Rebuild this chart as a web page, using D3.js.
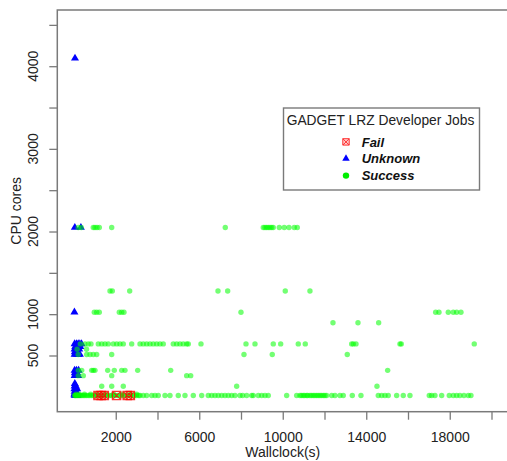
<!DOCTYPE html>
<html>
<head>
<meta charset="utf-8">
<script src="https://cdn.jsdelivr.net/npm/d3@7/dist/d3.min.js"></script>
<style>
  html, body { margin: 0; padding: 0; background: #fff; }
  svg { display: block; font-family: "Liberation Sans", Arial, Helvetica, sans-serif; }
</style>
</head>
<body>
<svg id="chart" width="507" height="461"></svg>
<script>
// ---------------- data (wallclock seconds per CPU-core level) ----------------
const legendTitle = "GADGET LRZ Developer Jobs";
const seriesNames = ["Fail", "Unknown", "Success"];

const xTicks = [2000, 4000, 6000, 8000, 10000, 12000, 14000, 16000, 18000, 20000];
const xTickLabels = [2000, 6000, 10000, 14000, 18000];
const yTicks = [500, 1000, 1500, 2000, 2500, 3000, 3500, 4000, 4500];
const yTickLabels = [500, 1000, 2000, 3000, 4000];

// Fail jobs
const failWall  = [1150, 1300, 1450, 2040, 2550, 2700];
const failCores = [16, 16, 16, 16, 16, 16];

// Unknown jobs
const unknownWall  = [48, 40, 330, 20,
  30, 120, 200, 280, 360, 60, 180, 300, 30, 100, 250, 40, 160, 30, 110, 200, 280,
  30, 120, 220, 40, 150, 30, 100, 200,
  40, 30, 90, 20, 80, 150, 30, 100, 20, 60, 140, 30, 90, 160, 50, 120];
const unknownCores = [4096, 2048, 2048, 1024,
  640, 640, 640, 640, 640, 608, 608, 608, 576, 576, 576, 544, 544, 512, 512, 512, 512,
  320, 320, 320, 288, 288, 256, 256, 256,
  160, 128, 128, 96, 96, 96, 64, 64, 32, 32, 32, 16, 16, 16, 48, 48];

// Success jobs, grouped by core count
const success2048 = [200, 350, 924, 1006, 1102, 1212, 1806, 7247, 9068, 9149, 9230, 9307,
  9388, 9470, 9546, 9834, 10073, 10299, 10552, 10696];
const success1280 = [1724, 1835, 2668, 6898, 7362, 10121, 11304];
const success1024 = [972, 1087, 1212, 2170, 2285, 2395, 8000, 17325, 17484, 17929, 18169, 18331, 18537];
const success896  = [12406, 13604, 14595];
const success640  = [300, 527, 685, 814, 1164, 1327, 1485, 1643, 1882, 2045, 2203, 2361, 2764,
  3161, 3319, 3482, 3640, 3798, 3961, 4119, 4277, 4756, 4919, 5077, 5235, 5398, 5475, 6083,
  8239, 8670, 9546, 9901, 10744, 11079, 13302, 13379, 13508, 15615, 15678, 19174];
const success576  = [150, 600];
const success512  = [200, 608, 766, 924, 1087, 1806, 8143, 9498, 13091];
const success320  = [206, 369, 846, 924, 1006, 1614, 1930, 2285, 2443, 3051, 4632, 15026];
const success256  = [206, 445, 1806, 5398, 5590];
const success128  = [1327, 1806, 2361, 7793, 14514];
const success32   = [100, 250, 500, 800, 1100, 1500, 1900, 2300, 2700, 3000];
const success16   = [30, 60, 100, 150, 200, 260, 320, 380, 450, 520, 600, 680, 760, 850, 940,
  1030, 1120, 1210, 1300, 1400, 1500, 1600, 1700, 1800, 1900, 2000, 2100, 2200, 2300, 2400,
  2500, 2600, 2700, 2800, 2900, 3000, 3100, 3161, 3319, 3482, 3722, 3880, 4038, 4359, 4598,
  4996, 5317, 5715, 6117, 6433, 6596, 6754, 6912, 7075, 7233, 7391, 7554, 7712, 7951, 8081,
  8272, 8512, 8588, 8828, 8991, 9149, 9307, 10188, 10667, 10825, 10900, 10983, 11050, 11146,
  11200, 11304, 11380, 11462, 11540, 11625, 11700, 11783, 11860, 11942, 12020, 12105, 12344,
  12502, 12741, 12899, 13331, 13747, 14576, 14739, 14897, 15055, 15457, 15773, 16094, 17019,
  17134, 17292, 17613, 17977, 18169, 18331, 18489, 18681, 18887, 19016];

const successGroups = [
  [2048, success2048], [1280, success1280], [1024, success1024], [896, success896],
  [640, success640], [576, success576], [512, success512], [320, success320],
  [256, success256], [128, success128], [32, success32], [16, success16]
];

// ---------------- build point tables ----------------
const failPts = failWall.map((w, i) => ({ wall: w, cores: failCores[i] }));
const unknownPts = unknownWall.map((w, i) => ({ wall: w, cores: unknownCores[i] }));
const successPts = [];
successGroups.forEach(([c, arr]) => arr.forEach(w => successPts.push({ wall: w, cores: c })));

// ---------------- chart ----------------
const svg = d3.select("#chart");
const box = { left: 57.3, top: 10, right: 508.2, bottom: 411.7 };

const x = d3.scaleLinear().domain([-800, 20800]).range([box.left, box.right]);
const y = d3.scaleLinear().domain([-180, 4680]).range([box.bottom, box.top]);

const axisColor = "#7a7a7a";
const textColor = "#222";

// points
const gPts = svg.append("g");

gPts.selectAll("path.unknown").data(unknownPts).enter().append("path")
  .attr("class", "unknown")
  .attr("d", d3.symbol(d3.symbolTriangle, 28)())
  .attr("transform", d => `translate(${x(d.wall)},${y(d.cores)})`)
  .attr("fill", "#0000ff");

gPts.selectAll("circle.success").data(successPts).enter().append("circle")
  .attr("class", "success")
  .attr("cx", d => x(d.wall))
  .attr("cy", d => y(d.cores))
  .attr("r", 2.7)
  .attr("fill", "#00ff00")
  .attr("fill-opacity", 0.55);

const s = 4.2;
const failPath = `M${-s},${-s}H${s}V${s}H${-s}Z M${-s},${-s}L${s},${s} M${s},${-s}L${-s},${s}`;
gPts.selectAll("path.fail").data(failPts).enter().append("path")
  .attr("class", "fail")
  .attr("d", failPath)
  .attr("transform", d => `translate(${x(d.wall)},${y(d.cores)})`)
  .attr("fill", "none")
  .attr("stroke", "#ff0000")
  .attr("stroke-opacity", 0.8)
  .attr("stroke-width", 1.2);

// box
svg.append("rect")
  .attr("x", box.left).attr("y", box.top)
  .attr("width", box.right - box.left).attr("height", box.bottom - box.top)
  .attr("fill", "none").attr("stroke", axisColor).attr("stroke-width", 1.5);

// x axis
const xAxis = d3.axisBottom(x)
  .tickValues(xTicks)
  .tickSize(8)
  .tickPadding(12.6)
  .tickFormat(d => xTickLabels.includes(d) ? String(d) : "");
const gx = svg.append("g").attr("transform", `translate(0,${box.bottom})`).call(xAxis);
gx.select(".domain").remove();
gx.selectAll("line").attr("stroke", axisColor).attr("stroke-width", 1.3);
gx.selectAll("text").attr("fill", textColor).style("font-size", "14px")
  .style("font-family", '"Liberation Sans", Arial, sans-serif');

// y axis (ticks)
const yAxis = d3.axisLeft(y).tickValues(yTicks).tickSize(8).tickFormat("");
const gy = svg.append("g").attr("transform", `translate(${box.left},0)`).call(yAxis);
gy.select(".domain").remove();
gy.selectAll("line").attr("stroke", axisColor).attr("stroke-width", 1.3);

// y tick labels (rotated, parallel to axis)
svg.append("g").selectAll("text").data(yTickLabels).enter().append("text")
  .attr("transform", d => `translate(38,${y(d)}) rotate(-90)`)
  .attr("text-anchor", "middle")
  .attr("fill", textColor)
  .style("font-size", "14px")
  .text(d => d);

// axis titles
svg.append("text")
  .attr("x", (box.left + box.right) / 2).attr("y", 457)
  .attr("text-anchor", "middle").attr("fill", textColor)
  .style("font-size", "14px").text("Wallclock(s)");
svg.append("text")
  .attr("transform", `translate(21,${(box.top + box.bottom) / 2}) rotate(-90)`)
  .attr("text-anchor", "middle").attr("fill", textColor)
  .style("font-size", "14px").text("CPU cores");

// legend
const lg = svg.append("g");
lg.append("rect")
  .attr("x", 283.5).attr("y", 108).attr("width", 196).attr("height", 82)
  .attr("fill", "#fff").attr("stroke", axisColor).attr("stroke-width", 1.4);
lg.append("text")
  .attr("x", 286.7).attr("y", 125.3).attr("fill", textColor)
  .style("font-size", "13.8px").text(legendTitle);

const legendRows = [141.9, 158.6, 175.6];
const legendBase = [146.7, 163.3, 180];
const ls = 3.2;
lg.append("path")
  .attr("d", `M${-ls},${-ls}H${ls}V${ls}H${-ls}Z M${-ls},${-ls}L${ls},${ls} M${ls},${-ls}L${-ls},${ls}`)
  .attr("transform", `translate(346,${legendRows[0]})`)
  .attr("fill", "#ffd0d0").attr("stroke", "#ff3030").attr("stroke-width", 1);
lg.append("path")
  .attr("d", d3.symbol(d3.symbolTriangle, 24)())
  .attr("transform", `translate(346,${legendRows[1]})`)
  .attr("fill", "#0000ff");
lg.append("circle")
  .attr("cx", 346).attr("cy", legendRows[2]).attr("r", 3.2)
  .attr("fill", "#00ee00");

lg.selectAll("text.lab").data(seriesNames).enter().append("text")
  .attr("class", "lab")
  .attr("x", 361.7).attr("y", (d, i) => legendBase[i])
  .attr("fill", "#111")
  .style("font-size", "13px").style("font-weight", "bold").style("font-style", "italic")
  .text(d => d);
</script>
</body>
</html>
